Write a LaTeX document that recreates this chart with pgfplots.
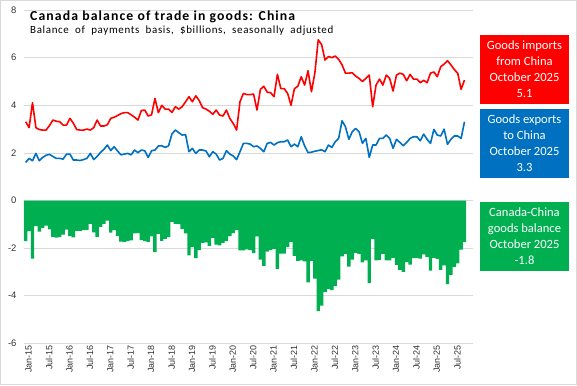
\documentclass[border=0pt]{standalone}
\usepackage{pgfplots}
\usepackage{pgfplotstable}
\pgfplotsset{compat=1.18}
\usepackage{fontspec}
\setmainfont{Liberation Sans}
\newfontfamily\aptos{Carlito}
\newfontfamily\aptostitle[LetterSpace=8]{Carlito}
\newfontfamily\aptossub[LetterSpace=6,WordSpace=2]{Carlito}
\definecolor{impred}{RGB}{255,0,0}
\definecolor{expblue}{RGB}{0,112,192}
\definecolor{balgreen}{RGB}{0,176,80}
\definecolor{gridgray}{RGB}{217,217,217}

\pgfplotstableread{
i imp exp bal
0 3.31 1.60 -1.71
1 3.06 1.77 -1.29
2 4.11 1.67 -2.44
3 3.06 1.98 -1.08
4 2.98 1.67 -1.31
5 2.96 1.81 -1.15
6 2.96 1.90 -1.06
7 3.15 1.94 -1.21
8 3.38 1.85 -1.53
9 3.33 1.77 -1.56
10 3.31 1.77 -1.54
11 3.17 1.74 -1.43
12 3.17 1.95 -1.22
13 3.45 1.95 -1.50
14 3.25 1.70 -1.55
15 2.98 1.70 -1.28
16 2.96 1.68 -1.28
17 2.96 1.72 -1.24
18 3.00 1.77 -1.23
19 2.96 1.98 -0.98
20 3.06 1.72 -1.34
21 3.38 1.85 -1.53
22 3.13 2.02 -1.11
23 3.13 2.15 -0.98
24 3.18 2.33 -0.85
25 3.45 2.10 -1.35
26 3.50 2.26 -1.24
27 3.57 2.08 -1.49
28 3.65 1.92 -1.73
29 3.69 1.95 -1.74
30 3.69 1.98 -1.71
31 3.60 1.92 -1.68
32 3.50 2.12 -1.38
33 3.38 2.01 -1.37
34 3.78 2.12 -1.66
35 3.80 2.09 -1.71
36 3.55 1.81 -1.74
37 3.60 2.09 -1.51
38 4.29 2.12 -2.17
39 3.69 2.29 -1.40
40 4.00 2.30 -1.70
41 3.84 2.23 -1.61
42 3.84 2.30 -1.54
43 3.70 2.80 -0.90
44 3.94 2.96 -0.98
45 3.84 2.85 -0.99
46 3.94 2.75 -1.19
47 4.15 2.77 -1.38
48 4.36 2.05 -2.31
49 4.15 2.19 -1.96
50 4.40 1.98 -2.42
51 4.20 2.12 -2.08
52 3.90 2.12 -1.78
53 3.84 2.08 -1.76
54 3.75 1.84 -1.91
55 3.62 2.05 -1.57
56 3.80 1.95 -1.85
57 3.59 1.70 -1.89
58 3.55 1.77 -1.78
59 3.80 2.09 -1.71
60 3.45 1.95 -1.50
61 3.24 1.87 -1.37
62 2.96 1.72 -1.24
63 4.15 2.05 -2.10
64 4.50 2.40 -2.10
65 4.45 2.40 -2.05
66 4.45 2.37 -2.08
67 4.47 2.26 -2.21
68 3.80 2.29 -1.51
69 4.67 2.19 -2.48
70 4.80 2.05 -2.75
71 4.55 2.40 -2.15
72 4.53 2.44 -2.09
73 4.36 2.33 -2.03
74 5.30 2.43 -2.87
75 4.70 2.47 -2.23
76 4.70 2.47 -2.23
77 4.50 2.54 -1.96
78 4.00 2.26 -1.74
79 4.70 2.37 -2.33
80 4.80 2.26 -2.54
81 5.20 2.68 -2.52
82 4.85 2.29 -2.56
83 5.45 2.01 -3.44
84 4.57 2.03 -2.54
85 5.35 2.07 -3.28
86 6.75 2.10 -4.65
87 6.55 2.13 -4.42
88 5.90 2.05 -3.85
89 6.05 2.33 -3.72
90 6.00 2.23 -3.77
91 6.07 2.47 -3.60
92 5.93 2.61 -3.32
93 5.70 3.35 -2.35
94 5.35 3.10 -2.25
95 5.35 2.57 -2.78
96 5.37 2.89 -2.48
97 5.23 3.03 -2.20
98 5.13 2.89 -2.24
99 5.00 2.40 -2.60
100 5.13 2.61 -2.52
101 5.27 1.81 -3.46
102 3.94 2.33 -1.61
103 4.85 2.33 -2.52
104 5.10 2.61 -2.49
105 4.85 2.61 -2.24
106 5.27 2.75 -2.52
107 5.13 2.61 -2.52
108 4.60 2.19 -2.41
109 5.27 2.57 -2.70
110 5.35 2.44 -2.91
111 5.30 2.30 -3.00
112 5.03 2.44 -2.59
113 5.30 2.61 -2.69
114 5.10 2.68 -2.42
115 5.10 2.68 -2.42
116 4.95 2.51 -2.44
117 5.05 2.79 -2.26
118 4.95 2.57 -2.38
119 5.35 2.40 -2.95
120 5.40 2.99 -2.41
121 5.20 2.75 -2.45
122 5.62 2.71 -2.91
123 5.73 3.00 -2.73
124 5.87 2.36 -3.51
125 5.70 2.57 -3.13
126 5.50 2.71 -2.79
127 5.35 2.71 -2.64
128 4.67 2.61 -2.06
129 5.06 3.31 -1.75
}\tradedata

\begin{document}
\begin{tikzpicture}[x=1bp,y=1bp]
\useasboundingbox (0,0) rectangle (577,385);
\draw[gridgray,line width=0.75bp] (0.5,0.5) rectangle (576.5,384.5);
\begin{axis}[
  at={(24bp,41.7bp)}, anchor=south west,
  scale only axis, width=449bp, height=333.2bp,
  xmin=-0.5, xmax=131.5, ymin=-6, ymax=8,
  ytick={-6,-4,-2,0,2,4,6,8},
  yticklabels={-6,-4,-2,0,2,4,6,8},
  xtick={0,6,...,126},
  xticklabels={Jan-15,Jul-15,Jan-16,Jul-16,Jan-17,Jul-17,Jan-18,Jul-18,Jan-19,Jul-19,Jan-20,Jul-20,Jan-21,Jul-21,Jan-22,Jul-22,Jan-23,Jul-23,Jan-24,Jul-24,Jan-25,Jul-25},
  axis line style={draw=none},
  major tick length=0pt,
  ymajorgrids,
  grid style={gridgray,line width=0.75bp},
  yticklabel style={font=\fontsize{9.5}{10}\selectfont,text=black!80,anchor=east,xshift=-4bp},
  xticklabel style={font=\fontsize{9}{10}\selectfont,text=black!80,rotate=90,anchor=east,xshift=1.5bp,yshift=-3bp},
  clip=false,
]
\addplot[ybar, bar width=3.45bp, fill=balgreen, draw=none, bar shift=0pt] table[x=i,y=bal] {\tradedata};
\addplot[impred, line width=1.6bp, line join=round, mark=none] table[x=i,y=imp] {\tradedata};
\addplot[expblue, line width=1.6bp, line join=round, mark=none] table[x=i,y=exp] {\tradedata};
\end{axis}
\node[anchor=base west, inner sep=0, font=\aptostitle\bfseries\fontsize{13.8}{15}\selectfont] at (30,364.3) {Canada balance of trade in goods: China};
\node[anchor=base west, inner sep=0, font=\aptossub\fontsize{11}{12}\selectfont] at (30,351.3) {Balance of payments basis, \$billions, seasonally adjusted};
\fill[impred] (480,281) rectangle (569,350);
\fill[expblue] (480,207) rectangle (569,276);
\fill[balgreen] (480,114) rectangle (569,183);
\node[align=center, text=white, inner sep=0, font=\aptos\fontsize{12.6}{16}\selectfont] at (524.5,315.5) {Goods imports\\from China\\October 2025\\5.1};
\node[align=center, text=white, inner sep=0, font=\aptos\fontsize{12.6}{16}\selectfont] at (524.5,241.5) {Goods exports\\to China\\October 2025\\3.3};
\node[align=center, text=white, inner sep=0, font=\aptos\fontsize{12.6}{16}\selectfont] at (524.5,148.5) {Canada-China\\goods balance\\October 2025\\-1.8};
\end{tikzpicture}
\end{document}
